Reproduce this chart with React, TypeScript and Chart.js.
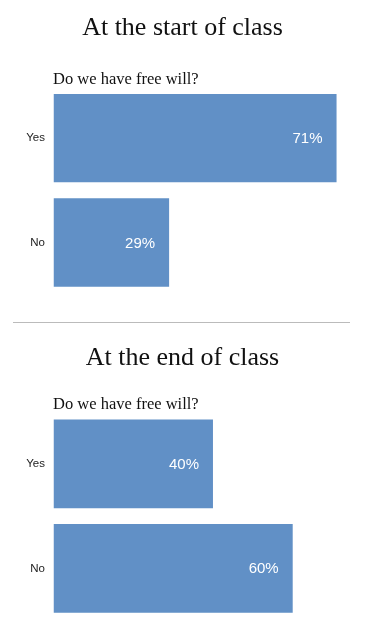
import React, { useEffect, useRef } from "react";
import { Chart, registerables } from "chart.js";

Chart.register(...registerables);

const categories = ["Yes", "No"];
const startValues = [71, 29];
const endValues = [40, 60];
const startTitle = "At the start of class";
const endTitle = "At the end of class";
const question = "Do we have free will?";

const BAR_COLOR = "#6190C6";

const valueLabelPlugin = {
  id: "valueLabels",
  afterDatasetsDraw(chart: any) {
    const ctx = chart.ctx;
    const meta = chart.getDatasetMeta(0);
    const data = chart.data.datasets[0].data as number[];
    ctx.save();
    ctx.font = "15px 'Liberation Sans', Arial, sans-serif";
    ctx.fillStyle = "#ffffff";
    ctx.textAlign = "right";
    ctx.textBaseline = "middle";
    meta.data.forEach((bar: any, i: number) => {
      ctx.fillText(data[i] + "%", bar.x - 14, bar.y + 1);
    });
    ctx.restore();
  },
};

function BarChart({ values, padTop, padBottom, barPct }: { values: number[]; padTop: number; padBottom: number; barPct: number }) {
  const ref = useRef<HTMLCanvasElement | null>(null);
  useEffect(() => {
    if (!ref.current) return;
    const chart = new Chart(ref.current, {
      type: "bar",
      data: {
        labels: categories,
        datasets: [
          {
            data: values,
            backgroundColor: BAR_COLOR,
            borderWidth: 0,
            categoryPercentage: 1,
            barPercentage: barPct,
          },
        ],
      },
      options: {
        indexAxis: "y",
        animation: false,
        responsive: false,
        maintainAspectRatio: false,
        events: [],
        layout: { padding: { top: padTop, bottom: padBottom, left: 0, right: 12.5 } },
        plugins: {
          legend: { display: false },
          tooltip: { enabled: false },
          title: { display: false },
        },
        scales: {
          x: {
            display: false,
            min: 0,
            max: 75,
            grid: { display: false },
          },
          y: {
            grid: { display: false, drawTicks: false },
            border: { display: false },
            ticks: {
              color: "#222222",
              padding: 8.5,
              font: { family: "'Liberation Sans', Arial, sans-serif", size: 11.5 },
            },
            afterFit: (scale: any) => {
              scale.width = 53.5;
            },
          },
        },
      },
      plugins: [valueLabelPlugin],
    } as any);
    return () => chart.destroy();
  }, []);
  return <canvas ref={ref} width={365} height={310} style={{ display: "block", width: 365, height: 310 }} />;
}

const serif = "'Liberation Serif', 'Times New Roman', serif";

export default function App() {
  return (
    <div style={{ position: "absolute", left: 0, top: 0, width: 365, height: 636, background: "#fff", overflow: "hidden" }}>
      <div style={{ position: "absolute", top: 0, left: 0 }}>
        <BarChart values={startValues} padTop={86} padBottom={14} barPct={0.848} />
      </div>
      <div style={{ position: "absolute", top: 326, left: 0 }}>
        <BarChart values={endValues} padTop={85.6} padBottom={15} barPct={0.85} />
      </div>
      <div style={{ position: "absolute", top: 14, left: 0, width: 365, textAlign: "center", font: `26px/26px ${serif}`, color: "#111" }}>
        {startTitle}
      </div>
      <div style={{ position: "absolute", top: 71.2, left: 53, font: `16.5px/16.5px ${serif}`, color: "#111", whiteSpace: "nowrap" }}>
        {question}
      </div>
      <div style={{ position: "absolute", top: 321.5, left: 13, width: 337, height: 1, background: "#bbbbbb" }} />
      <div style={{ position: "absolute", top: 344, left: 0, width: 365, textAlign: "center", font: `26px/26px ${serif}`, color: "#111" }}>
        {endTitle}
      </div>
      <div style={{ position: "absolute", top: 395.5, left: 53, font: `16.5px/16.5px ${serif}`, color: "#111", whiteSpace: "nowrap" }}>
        {question}
      </div>
    </div>
  );
}
